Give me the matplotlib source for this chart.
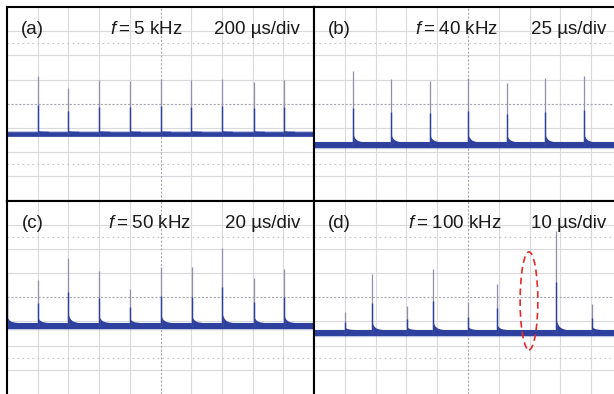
import numpy as np
import matplotlib
matplotlib.use('Agg')
import matplotlib.pyplot as plt
from matplotlib.patches import Ellipse

plt.rcParams['font.family'] = ['Liberation Sans', 'DejaVu Sans']
plt.rcParams['mathtext.fontset'] = 'custom'
plt.rcParams['mathtext.rm'] = 'Liberation Sans'
plt.rcParams['mathtext.it'] = 'Liberation Sans:italic'

# panel settings
labels = ['(a)', '(b)', '(c)', '(d)']
freqs = ['5', '40', '50', '100']        # kHz
us_div = [200, 25, 20, 10]              # time base, µs/div

# spike times (µs) and spike peaks / baseline (screen divisions from bottom)
t_a = [200, 400, 600, 800, 1000, 1200, 1400, 1608, 1806]
h_a = [5.15, 4.65, 4.98, 4.94, 5.02, 4.98, 5.02, 4.90, 4.98]
base_a = 2.77

t_b = [31.5, 62.5, 94, 125, 156.5, 187.5, 219]
h_b = [5.35, 5.01, 4.94, 5.06, 4.84, 5.05, 5.15]
base_b = 2.30

t_c = [0, 20, 40, 60, 80, 100.4, 120.4, 140.2, 161, 180.6]
h_c = [5.0, 4.72, 5.64, 5.09, 4.34, 5.27, 5.23, 6.03, 4.79, 5.15]
base_c = 2.83

t_d = [10.1, 18.9, 30.1, 38.7, 49.9, 59.3, 78.5, 90.2]
h_d = [3.38, 4.97, 3.63, 5.17, 3.80, 4.55, 6.75, 3.71]
base_d = 2.54

# missing pulse marked in (d)
miss_t = 69.8
miss_y = 3.85

# decay tail after each spike
tail_dx = [0.0, 0.03, 0.07, 0.13, 0.22, 0.34]
tail_k = [0.12, 0.08, 0.05, 0.025, 0.01, 0.0]

times = [t_a, t_b, t_c, t_d]
peaks = [h_a, h_b, h_c, h_d]
bases = [base_a, base_b, base_c, base_d]
tail_gain = [0.1, 1.0, 1.0, 1.0]
trace_lw = [3.3, 4.3, 4.3, 4.3]

blue = '#2d409e'
spike_gray = '#9090aa'

W, H = 614, 394
fig = plt.figure(figsize=(W / 100, H / 100), dpi=100)
boxes = [
    [7 / W, (H - 200.5) / H, 307 / W, 193.5 / H],
    [314 / W, (H - 200.5) / H, 308 / W, 193.5 / H],
    [7 / W, 0, 307 / W, 193.5 / H],
    [314 / W, 0, 308 / W, 193.5 / H],
]
text_x = [(0.46, 3.35, 9.54), (0.46, 3.29, 9.48), (0.48, 3.29, 9.54), (0.46, 3.06, 9.48)]

for i in range(4):
    ax = fig.add_axes(boxes[i])
    ax.set_xlim(0, 10)
    ax.set_ylim(0, 8)
    ax.set_facecolor('white')
    ax.tick_params(length=0, labelbottom=False, labelleft=False)
    ax.set_xticks([])
    ax.set_yticks([])

    # oscilloscope graticule
    for gx in range(1, 10):
        if gx == 5:
            ax.axvline(gx, color='#a8a8b0', lw=0.8, ls=(0, (2, 1.5)), zorder=0.6)
        else:
            ax.axvline(gx, color='#dadade', lw=0.8, zorder=0.5)
    for gy in range(1, 8):
        if gy == 4:
            ax.axhline(gy, color='#a8a8b0', lw=0.8, ls=(0, (2, 1.5)), zorder=0.6)
        else:
            ax.axhline(gy, color='#dadade', lw=0.8, zorder=0.5)
    for gy in (1.5, 6.5):
        ax.axhline(gy, color='#c4c4c8', lw=0.8, ls=(0, (1.5, 3)), zorder=0.6)

    # baseline trace
    base = bases[i]
    ax.plot([0, 10], [base, base], color=blue, lw=trace_lw[i] + 1.0, alpha=0.3, zorder=2)
    ax.plot([0, 10], [base, base], color=blue, lw=trace_lw[i], zorder=2.1)
    hb = trace_lw[i] / 72 * 100 / 2 / 24.1   # half band height in divisions

    # decay tail behind each spike
    for t, p in zip(times[i], peaks[i]):
        x0 = t / us_div[i]
        amp = p - base
        tx_ = x0 + np.array(tail_dx)
        ty_ = base + hb + np.array(tail_k) * amp * tail_gain[i]
        ax.fill_between(tx_, base, ty_, color=blue, lw=0, zorder=2.2)

    # spikes
    sx = np.array(times[i]) / us_div[i]
    sp = np.array(peaks[i])
    ax.vlines(sx, base, sp, color=spike_gray, lw=0.9, zorder=3)
    ax.vlines(sx, base, base + 0.5 * (sp - base), color=blue, lw=1.0, zorder=3.1)

    # annotations
    tx = text_x[i]
    ax.text(tx[0], 6.88, labels[i], fontsize=13.5, color='#1a1a1a', zorder=4)
    ax.text(tx[1], 6.88, r'$f$' + '\u2009=\u2009' + freqs[i] + ' kHz', fontsize=13.5,
            color='#1a1a1a', zorder=4)
    ax.text(tx[2], 6.88, '%d µs/div' % us_div[i], fontsize=13.5,
            color='#1a1a1a', ha='right', zorder=4)

    for s in ax.spines.values():
        s.set_color('black')
        s.set_linewidth(1.5)
        s.set_zorder(6)
    if i in (1, 3):
        ax.spines['right'].set_visible(False)
    if i in (2, 3):
        ax.spines['bottom'].set_visible(False)

    if i == 3:
        ax.add_patch(Ellipse((miss_t / us_div[i], miss_y), 0.575, 4.05,
                             fill=False, edgecolor='#e62a2a', lw=1.2,
                             ls=(0, (4, 2.5)), zorder=5))

fig.savefig('out.png', dpi=100)
